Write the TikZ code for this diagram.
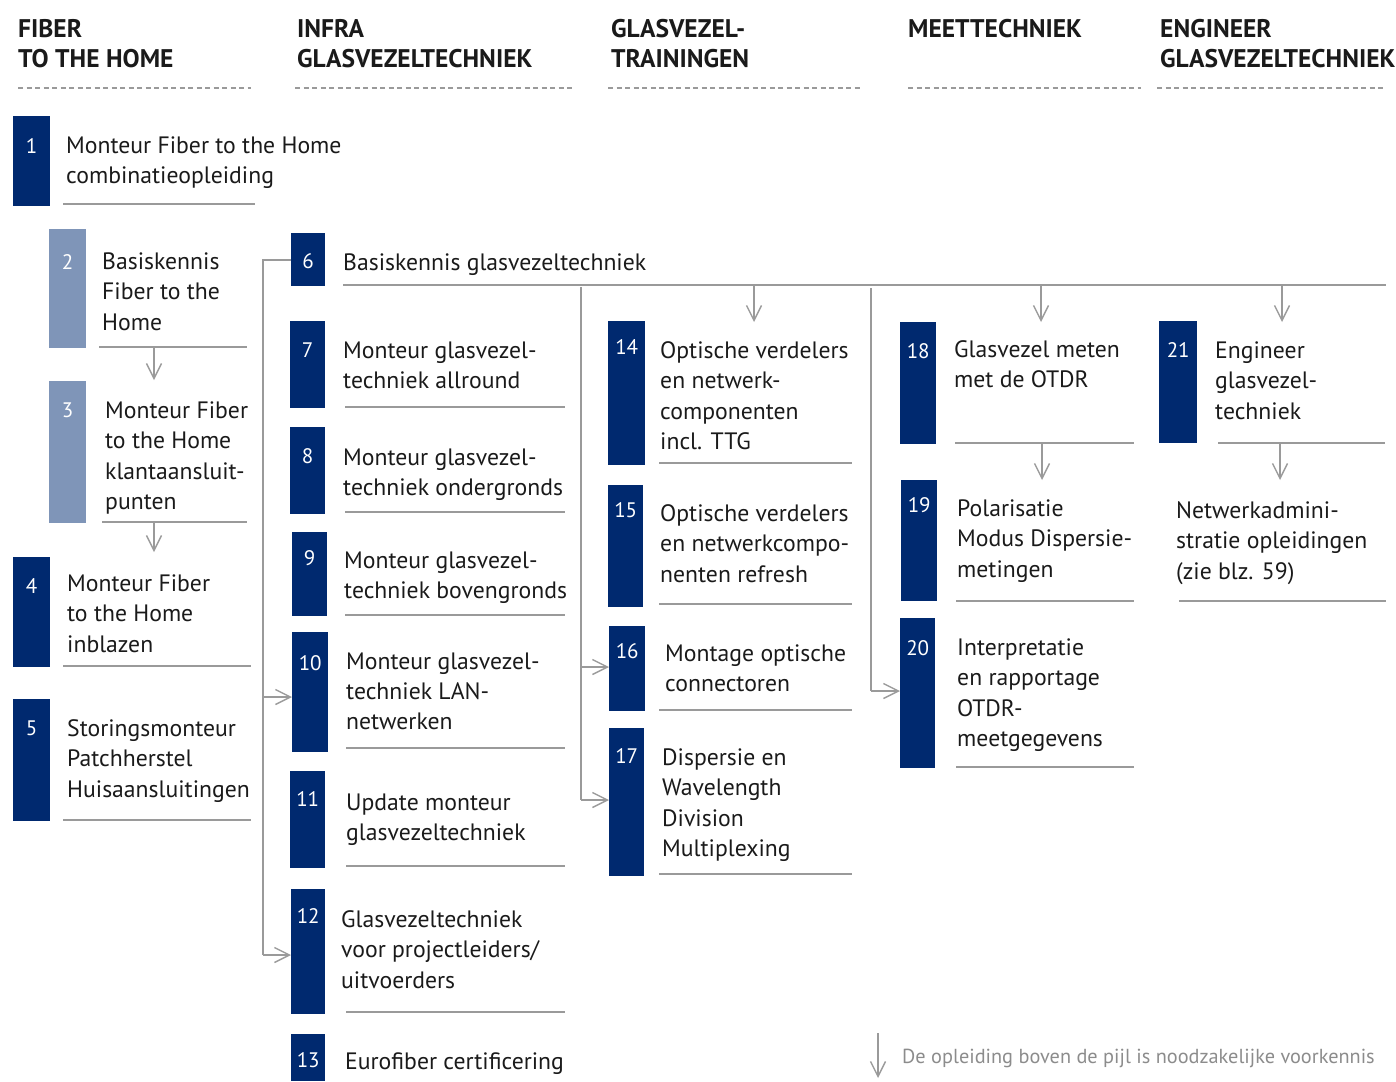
\documentclass[tikz,border=0pt]{standalone}
\usepackage{fontspec}
\setmainfont{PT Sans}
\usetikzlibrary{arrows.meta}
\definecolor{navy}{HTML}{00296F}
\definecolor{lightnavy}{HTML}{7F95B8}
\definecolor{linegray}{HTML}{9A9A9A}
\definecolor{txt}{HTML}{1A1A1A}
\definecolor{legendgray}{HTML}{8C8C8C}
\tikzset{
  box/.style={fill=navy, draw=none, inner sep=0, anchor=north west},
  lbox/.style={fill=lightnavy, draw=none, inner sep=0, anchor=north west},
  num/.style={text=white, font=\fontsize{21}{24}\selectfont, inner sep=0, anchor=base},
  lbl/.style={anchor=north west, inner sep=0, align=left, text=txt, yshift=15.5pt,
     font=\fontsize{23.7}{30.3}\selectfont},
  hdr/.style={anchor=north west, inner sep=0, align=left, text=txt, yshift=18pt,
     font=\bfseries\fontsize{25.5}{30}\selectfont},
  uline/.style={draw=linegray, line width=1.4pt},
  conn/.style={draw=linegray, line width=1.4pt},
  arr/.style={conn, -{Straight Barb[length=15pt,width=15pt,line width=1.4pt]}},
  sepline/.style={draw=linegray, line width=1.8pt, dash pattern=on 5pt off 3.5pt},
  legend/.style={anchor=base west, inner sep=0, text=legendgray, font=\fontsize{20.3}{24}\selectfont}
}
\begin{document}
\begin{tikzpicture}[x=1pt,y=-1pt]
\useasboundingbox (0,0) rectangle (1396,1081);
% headers
\node[hdr] (h1) at (18,37) {FIBER\\TO THE HOME};
\node[hdr] (h2) at (297,37) {INFRA\\GLASVEZELTECHNIEK};
\node[hdr] (h3) at (611,37) {GLASVEZEL-\\TRAININGEN};
\node[hdr] (h4) at (908,37) {MEETTECHNIEK};
\node[hdr] (h5) at (1160,37) {ENGINEER\\GLASVEZELTECHNIEK};
\draw[sepline] (18,88) -- (251,88);
\draw[sepline] (295,88) -- (574,88);
\draw[sepline] (608,88) -- (860,88);
\draw[sepline] (908,88) -- (1141,88);
\draw[sepline] (1157,88) -- (1386,88);

% column 1
\node[box, minimum width=37pt, minimum height=90pt] (b1) at (13,116) {};
\node[num] (n1) at ([yshift=-37pt]b1.north) {1};
\node[lbl] (t1) at (66,152) {Monteur Fiber to the Home\\combinatieopleiding};
\draw[uline] (63,204) -- (255,204);

\node[lbox, minimum width=37pt, minimum height=119pt] (b2) at (49,229) {};
\node[num] (n2) at ([yshift=-40pt]b2.north) {2};
\node[lbl] (t2) at (102,268) {Basiskennis\\Fiber to the\\Home};
\draw[uline] (99,347) -- (247,347);

\node[lbox, minimum width=37pt, minimum height=142pt] (b3) at (49,381) {};
\node[num] (n3) at ([yshift=-36pt]b3.north) {3};
\node[lbl] (t3) at (105,417) {Monteur Fiber\\to the Home\\klantaansluit-\\punten};
\draw[uline] (102,522) -- (247,522);

\node[box, minimum width=37pt, minimum height=110pt] (b4) at (13,557) {};
\node[num] (n4) at ([yshift=-36pt]b4.north) {4};
\node[lbl] (t4) at (67,590) {Monteur Fiber\\to the Home\\inblazen};
\draw[uline] (63,666) -- (251,666);

\node[box, minimum width=37pt, minimum height=122pt] (b5) at (13,699) {};
\node[num] (n5) at ([yshift=-36pt]b5.north) {5};
\node[lbl] (t5) at (67,735) {Storingsmonteur\\Patchherstel\\Huisaansluitingen};
\draw[uline] (63,820) -- (251,820);

\coordinate (a2s) at (154,347);
\coordinate (a2e) at (154,380);
\draw[arr] (a2s) -- (a2e);
\coordinate (a3s) at (154,522);
\coordinate (a3e) at (154,552);
\draw[arr] (a3s) -- (a3e);

% column 2
\node[box, minimum width=34pt, minimum height=53pt] (b6) at (291,233) {};
\node[num] (n6) at ([yshift=-35pt]b6.north) {6};
\node[lbl] (t6) at (343,269) {Basiskennis glasvezeltechniek};
\draw[uline] (343,285) -- (1386,285);

\node[box, minimum width=35pt, minimum height=87pt] (b7) at (290,321) {};
\node[num] (n7) at ([yshift=-36pt]b7.north) {7};
\node[lbl] (t7) at (343,357) {Monteur glasvezel-\\techniek allround};
\draw[uline] (345,407) -- (565,407);

\node[box, minimum width=35pt, minimum height=87pt] (b8) at (290,427) {};
\node[num] (n8) at ([yshift=-36pt]b8.north) {8};
\node[lbl] (t8) at (343,464) {Monteur glasvezel-\\techniek ondergronds};
\draw[uline] (345,512) -- (565,512);

\node[box, minimum width=35pt, minimum height=84pt] (b9) at (292,532) {};
\node[num] (n9) at ([yshift=-33pt]b9.north) {9};
\node[lbl] (t9) at (344,567) {Monteur glasvezel-\\techniek bovengronds};
\draw[uline] (345,615) -- (565,615);

\node[box, minimum width=36pt, minimum height=120pt] (b10) at (292,632) {};
\node[num] (n10) at ([yshift=-38pt]b10.north) {10};
\node[lbl] (t10) at (346,668) {Monteur glasvezel-\\techniek LAN-\\netwerken};
\draw[uline] (346,748) -- (565,748);

\node[box, minimum width=35pt, minimum height=97pt] (b11) at (290,771) {};
\node[num] (n11) at ([yshift=-35pt]b11.north) {11};
\node[lbl] (t11) at (346,809) {Update monteur\\glasvezeltechniek};
\draw[uline] (346,866) -- (565,866);

\node[box, minimum width=34pt, minimum height=125pt] (b12) at (291,889) {};
\node[num] (n12) at ([yshift=-34pt]b12.north) {12};
\node[lbl] (t12) at (341,926) {Glasvezeltechniek\\voor projectleiders/\\uitvoerders};
\draw[uline] (346,1012) -- (565,1012);

\node[box, minimum width=34pt, minimum height=47pt] (b13) at (291,1034) {};
\node[num] (n13) at ([yshift=-33pt]b13.north) {13};
\node[lbl] (t13) at (345,1068) {Eurofiber certificering};

\coordinate (v6top) at (263,260);
\coordinate (v6bot) at (263,955);
\draw[conn] (b6.west |- v6top) -- (v6top) -- (v6bot);
\draw[arr] (263,697) -- (b10.west |- 0,697);
\draw[arr] (v6bot) -- (b12.west |- v6bot);

% column 3
\node[box, minimum width=37pt, minimum height=144pt] (b14) at (608,321) {};
\node[num] (n14) at ([yshift=-33pt]b14.north) {14};
\node[lbl] (t14) at (660,357) {Optische verdelers\\en netwerk-\\componenten\\incl. TTG};
\draw[uline] (659,463) -- (852,463);

\node[box, minimum width=35pt, minimum height=122pt] (b15) at (608,485) {};
\node[num] (n15) at ([yshift=-32pt]b15.north) {15};
\node[lbl] (t15) at (660,520) {Optische verdelers\\en netwerkcompo-\\nenten refresh};
\draw[uline] (659,604) -- (852,604);

\node[box, minimum width=36pt, minimum height=85pt] (b16) at (609,626) {};
\node[num] (n16) at ([yshift=-32pt]b16.north) {16};
\node[lbl] (t16) at (665,660) {Montage optische\\connectoren};
\draw[uline] (659,710) -- (852,710);

\node[box, minimum width=35pt, minimum height=148pt] (b17) at (609,728) {};
\node[num] (n17) at ([yshift=-35pt]b17.north) {17};
\node[lbl] (t17) at (662,764) {Dispersie en\\Wavelength\\Division\\Multiplexing};
\draw[uline] (659,874) -- (852,874);

\coordinate (v3top) at (581,287);
\coordinate (v3bot) at (581,800);
\draw[conn] (v3top) -- (v3bot);
\draw[arr] (581,667) -- (b16.west |- 0,667);
\draw[arr] (v3bot) -- (b17.west |- v3bot);
\coordinate (a14s) at (754,286);
\coordinate (a14e) at (754,322);
\draw[arr] (a14s) -- (a14e);

% column 4
\node[box, minimum width=36pt, minimum height=122pt] (b18) at (900,322) {};
\node[num] (n18) at ([yshift=-36pt]b18.north) {18};
\node[lbl] (t18) at (954,356) {Glasvezel meten\\met de OTDR};
\draw[uline] (955,443) -- (1134,443);

\node[box, minimum width=36pt, minimum height=121pt] (b19) at (901,480) {};
\node[num] (n19) at ([yshift=-32pt]b19.north) {19};
\node[lbl] (t19) at (957,515) {Polarisatie\\Modus Dispersie-\\metingen};
\draw[uline] (956,601) -- (1134,601);

\node[box, minimum width=35pt, minimum height=150pt] (b20) at (900,618) {};
\node[num] (n20) at ([yshift=-37pt]b20.north) {20};
\node[lbl] (t20) at (957,654) {Interpretatie\\en rapportage\\OTDR-\\meetgegevens};
\draw[uline] (956,767) -- (1134,767);

\coordinate (v4top) at (871,288);
\coordinate (v4bot) at (871,691);
\draw[conn] (v4top) -- (v4bot);
\draw[arr] (v4bot) -- (b20.west |- v4bot);
\coordinate (a18s) at (1041,286);
\coordinate (a18e) at (1041,322);
\draw[arr] (a18s) -- (a18e);
\coordinate (a19s) at (1042,443);
\coordinate (a19e) at (1042,480);
\draw[arr] (a19s) -- (a19e);

% column 5
\node[box, minimum width=38pt, minimum height=122pt] (b21) at (1159,321) {};
\node[num] (n21) at ([yshift=-36pt]b21.north) {21};
\node[lbl] (t21) at (1215,357) {Engineer\\glasvezel-\\techniek};
\draw[uline] (1218,443) -- (1385,443);

\node[lbl] (t22) at (1176,517) {Netwerkadmini-\\stratie opleidingen\\(zie blz. 59)};
\draw[uline] (1179,601) -- (1386,601);

\coordinate (a21s) at (1282,286);
\coordinate (a21e) at (1282,322);
\draw[arr] (a21s) -- (a21e);
\coordinate (a22s) at (1280,443);
\coordinate (a22e) at (1280,480);
\draw[arr] (a22s) -- (a22e);

% legend
\coordinate (ls) at (878,1033);
\coordinate (le) at (878,1078);
\draw[arr] (ls) -- (le);
\node[legend] (lt) at (902,1063) {De opleiding boven de pijl is noodzakelijke voorkennis};
\end{tikzpicture}
\end{document}
